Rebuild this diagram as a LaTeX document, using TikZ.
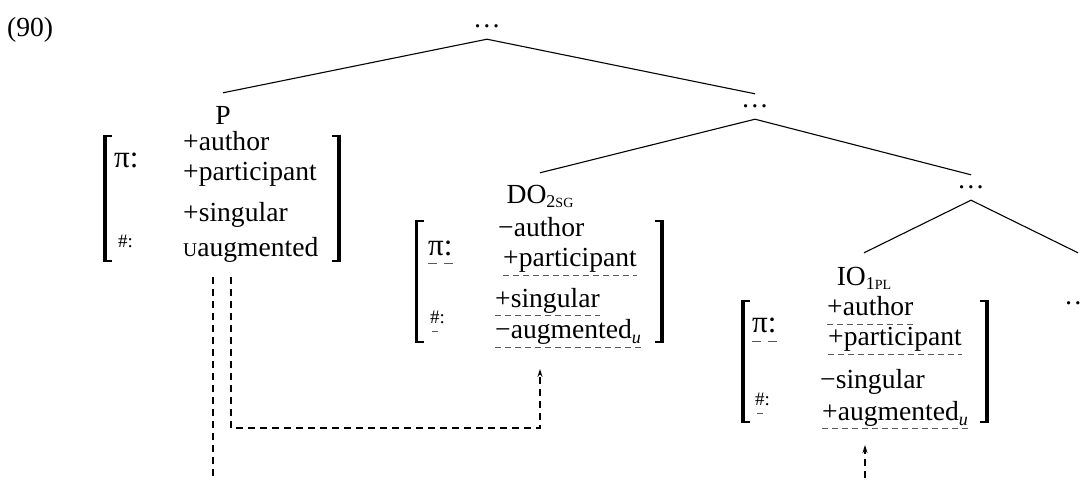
\documentclass[tikz,border=0pt]{standalone}
\usepackage{fontspec}
\setmainfont{Liberation Serif}
\usetikzlibrary{arrows.meta}
\newcommand{\fsc}[2][19.5]{{\fontsize{#1}{#1}\selectfont #2}}
\newcommand{\subu}{\raisebox{-5pt}{\fontsize{18}{18}\selectfont\itshape u}}
\newcommand{\avmlbr}[3]{%
  \draw[line width=3.2pt] (#1,#2) -- (#1,#3);
  \draw[line width=1.6pt] (#1-1.6,#2+0.8) -- (#1+7,#2+0.8);
  \draw[line width=1.6pt] (#1-1.6,#3-0.8) -- (#1+7,#3-0.8);}
\newcommand{\avmrbr}[3]{%
  \draw[line width=3.2pt] (#1,#2) -- (#1,#3);
  \draw[line width=1.6pt] (#1+1.6,#2+0.8) -- (#1-7,#2+0.8);
  \draw[line width=1.6pt] (#1+1.6,#3-0.8) -- (#1-7,#3-0.8);}
\begin{document}
\begin{tikzpicture}[x=1pt,y=-1pt,
  every node/.style={font=\fontsize{27.6}{33}\selectfont},
  txt/.style={anchor=base west,inner sep=0pt},
  dotsn/.style={anchor=base,inner xsep=0pt,inner ysep=11pt,text height=3pt,text depth=0pt},
  lbl/.style={anchor=base,inner sep=0pt,text height=19pt,text depth=0pt},
  branch/.style={line width=1.1pt},
  uline/.style={draw=black!65,line width=0.9pt,dash pattern=on 6pt off 4pt},
  piline/.style={draw=black!65,line width=0.9pt,dash pattern=on 9pt off 7pt},
  conn/.style={line width=1.3pt,dash pattern=on 7pt off 5pt},
  tip/.style={-{Stealth[length=8pt,width=5pt]}},
  pisym/.style={anchor=base west,inner sep=0pt,font=\fontsize{31}{31}\selectfont},
  numsym/.style={anchor=base west,inner sep=0pt,font=\fontsize{19}{19}\selectfont}]
\useasboundingbox (0,0) rectangle (1082,481);

\node[txt] (ex) at (7,37) {(90)};

% tree
\node[dotsn] (top) at (487,28) {…};
\node[dotsn] (mid) at (755,108) {…};
\node[dotsn] (thr) at (971,189) {…};
\node[dotsn] (fr) at (1078,304) {…};
\node[lbl] (P) at (223,125) {P};
\node[lbl] (DO) at (540,204) {DO\raisebox{-4pt}{\fontsize{18}{18}\selectfont 2\fontsize{14}{14}\selectfont SG}};
\node[lbl] (IO) at (864,285) {IO\raisebox{-4pt}{\fontsize{18}{18}\selectfont 1\fontsize{14}{14}\selectfont PL}};
\coordinate (Ptop) at ([yshift=13pt]P.north);
\coordinate (DOtop) at ([yshift=12pt]DO.north);
\coordinate (IOtop) at ([yshift=13pt]IO.north);
\draw[branch] (top.south) -- (Ptop);
\draw[branch] (top.south) -- (mid.north);
\draw[branch] (mid.south) -- (DOtop);
\draw[branch] (mid.south) -- (thr.north);
\draw[branch] (thr.south) -- (IOtop);
\draw[branch] (thr.south) -- (fr.north |- IOtop);

% P AVM
\avmlbr{105}{135}{262}
\avmrbr{339}{135}{262}
\node[pisym] (Ppi) at (114,168) {π:};
\node[txt] (Pa) at (183,151) {+author};
\node[txt] (Pp) at (183,181) {+participant};
\node[txt] (Ps) at (183,222) {+singular};
\node[txt] (Pu) at (183,257) {\fsc{U}augmented};
\node[numsym] (Pn) at (118,248) {\#:};

% DO AVM
\avmlbr{416.5}{220}{343}
\avmrbr{662}{220}{343}
\node[pisym] (Dpi) at (428,256) {π:};
\node[txt] (Da) at (498,237) {−author};
\node[txt] (Dp) at (503,267) {+participant};
\node[txt] (Ds) at (495,307) {+singular};
\node[txt] (Du) at (495,338) {−augmented\subu};
\node[numsym] (Dn) at (430,323) {\#:};
\draw[piline] ([yshift=-7pt]Dpi.base west) -- ([yshift=-7pt]Dpi.base east);
\draw[uline] ([yshift=-8pt]Dp.base west) -- ([yshift=-8pt]Dp.base east);
\draw[uline] ([yshift=-8pt]Ds.base west) -- ([yshift=-8pt]Ds.base east);
\draw[uline] ([yshift=-9pt]Du.base west) -- ([yshift=-9pt]Du.base east);
\draw[uline] ([xshift=2pt,yshift=-8pt]Dn.base west) -- ++(6,0);

% IO AVM
\avmlbr{743}{300}{423}
\avmrbr{987}{300}{423}
\node[pisym] (Ipi) at (752,332) {π:};
\node[txt] (Ia) at (827,316) {+author};
\node[txt] (Ip) at (828,345) {+participant};
\node[txt] (Is) at (820,388) {−singular};
\node[txt] (Iu) at (822,420) {+augmented\subu};
\node[numsym] (In) at (755,405) {\#:};
\draw[piline] ([yshift=-9pt]Ipi.base west) -- ([yshift=-9pt]Ipi.base east);
\draw[uline] ([yshift=-8pt]Ia.base west) -- ([yshift=-8pt]Ia.base east);
\draw[uline] ([yshift=-9pt]Ip.base west) -- ([yshift=-9pt]Ip.base east);
\draw[uline] ([yshift=-8pt]Iu.base west) -- ([yshift=-8pt]Iu.base east);
\draw[uline] ([xshift=2pt,yshift=-8pt]In.base west) -- ++(6,0);

% dashed connectors
\coordinate (s1) at (213,277);
\coordinate (e1) at (213,490);
\coordinate (s2) at (231,277);
\coordinate (c2) at (231,428);
\coordinate (t2) at (540,369);
\coordinate (e3) at (865,490);
\coordinate (t3) at (865,445);
\draw[conn] (s1) -- (e1);
\draw[conn,tip] (s2) -- (c2) -| (t2);
\draw[conn,tip] (e3) -- (t3);
\end{tikzpicture}
\end{document}
